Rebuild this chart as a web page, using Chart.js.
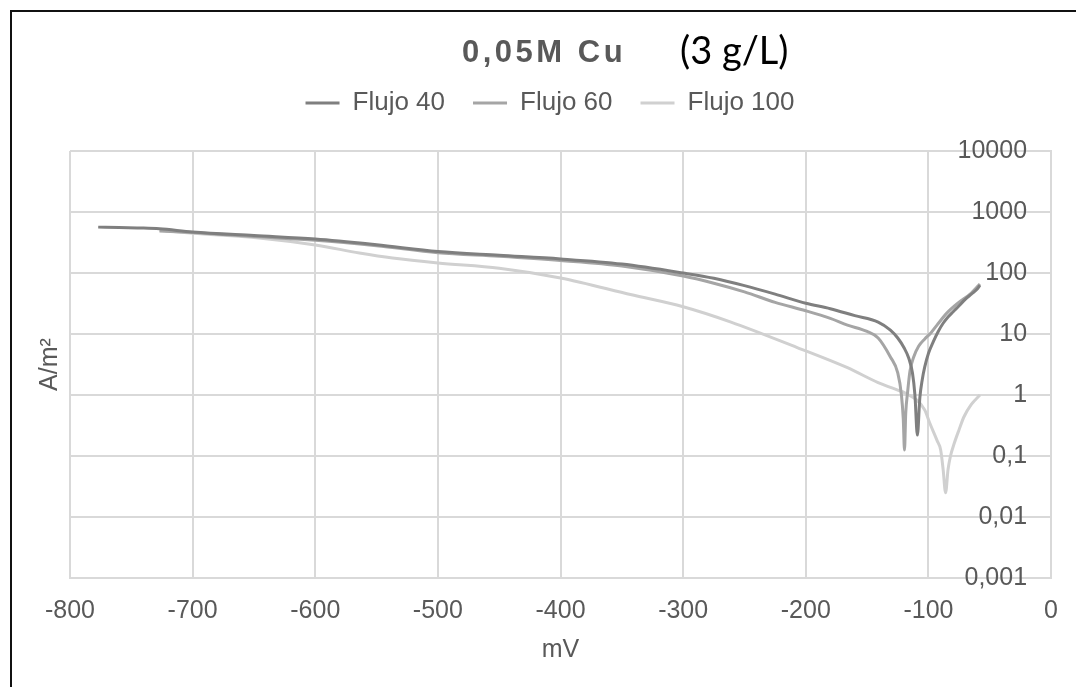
<!DOCTYPE html>
<html>
<head>
<meta charset="utf-8">
<script src="https://cdn.jsdelivr.net/npm/chart.js@4.4.0/dist/chart.umd.min.js"></script>
<style>
  html, body { margin: 0; padding: 0; background: #fff; }
  #wrap { position: relative; width: 1076px; height: 687px; overflow: hidden; }
  #frame { position: absolute; left: 10px; top: 10px; width: 1200px; height: 800px;
           border-top: 2px solid #111; border-left: 2px solid #111; }
  #chart { position: absolute; left: 0; top: 0; }
  .t1 { position: absolute; left: 462px; top: 34px; line-height: 31px; white-space: nowrap;
        font: bold 31px 'Liberation Sans', Arial, sans-serif; letter-spacing: 3.5px; color: #595959; }
  .t2 { position: absolute; left: 680px; top: 26px; line-height: 38px; white-space: nowrap;
        font: 38px Lato, 'Open Sans', sans-serif; color: #000; }
</style>
</head>
<body>
<div id="wrap">
  <div id="frame"></div>
  <canvas id="chart" width="1076" height="687"></canvas>
  <div class="t1">0,05M Cu</div>
  <div class="t2">(3 g/L)</div>
</div>
<script>
// Curvas de polarización (mV vs A/m2)
const f40X = [-777, -760, -740, -727, -700, -650, -600, -550, -500, -450, -400, -350, -300, -275, -250, -225, -200, -180, -160, -141, -131, -125, -120, -116, -113, -111, -109, -107, -105, -103, -100, -96, -92, -88, -84, -80, -75, -70, -65, -60, -58];
const f40Y = [565, 555, 545, 530, 470, 410, 360, 290, 225, 195, 170, 140, 100, 82, 62, 45, 32, 26, 20, 15.7, 11.6, 8.6, 6, 4, 2.3, 1, 0.22, 0.9, 1.8, 2.9, 4.8, 7.5, 11, 15, 19, 23, 29, 37, 45, 55, 63];

const f60X = [-727, -700, -650, -600, -550, -500, -450, -400, -350, -300, -275, -250, -225, -200, -180, -166, -150, -141, -131, -125, -122, -120.5, -119.5, -118.5, -117, -115, -112, -108, -103, -98, -93, -85, -76, -65, -58];
const f60Y = [490, 460, 395, 345, 280, 215, 188, 160, 130, 89, 68, 49, 33, 24, 18, 14, 11, 8.6, 4.2, 2.3, 1.0, 0.4, 0.125, 0.5, 1.1, 2.5, 4.2, 6.3, 8.3, 10.4, 14, 22, 32, 47, 66];

const f100X = [-727, -700, -646, -600, -564, -537, -500, -450, -400, -342, -300, -261, -207, -166, -141, -125, -119, -103, -99, -93, -90, -88, -86, -84, -82, -79, -75, -71, -65, -58];
const f100Y = [500, 450, 375, 288, 213, 176, 146, 120, 83, 44, 28, 15.7, 6, 2.8, 1.6, 1.2, 1.08, 0.57, 0.35, 0.18, 0.125, 0.06, 0.025, 0.06, 0.1, 0.16, 0.27, 0.44, 0.7, 1.0];

const seriesNames = ['Flujo 40', 'Flujo 60', 'Flujo 100'];
const yTickValues = [10000, 1000, 100, 10, 1, 0.1, 0.01, 0.001];
const yTickLabels = ['10000', '1000', '100', '10', '1', '0,1', '0,01', '0,001'];

const FONT = "'Liberation Sans', Arial, sans-serif";
const TEXT = '#595959';
const GRID = '#d9d9d9';
const lineColors = ['#7f7f7f', '#a5a5a5', '#d0d0d0'];

function toPoints(xs, ys) {
    return xs.map((x, i) => ({ x: x, y: ys[i] }));
}

// extra space under the legend so the plot starts lower
const legendSpacer = {
    id: 'legendSpacer',
    beforeInit(chart) {
        const fit = chart.legend.fit;
        chart.legend.fit = function () {
            fit.call(this);
            this.height += 25;
        };
    }
};

const dataSets = [[f40X, f40Y], [f60X, f60Y], [f100X, f100Y]].map((d, i) => ({
    label: seriesNames[i],
    data: toPoints(d[0], d[1]),
    borderColor: lineColors[i],
    backgroundColor: lineColors[i],
    borderWidth: 3,
    pointRadius: 0,
    cubicInterpolationMode: 'monotone',
    yAxisID: 'y'
}));

new Chart(document.getElementById('chart'), {
    type: 'line',
    data: { datasets: dataSets },
    plugins: [legendSpacer],
    options: {
        responsive: false,
        animation: false,
        layout: { padding: { top: 62, left: 24, right: 0, bottom: 0 } },
        plugins: {
            title: { display: false },
            tooltip: { enabled: false },
            legend: {
                position: 'top',
                labels: {
                    usePointStyle: true,
                    pointStyle: 'line',
                    pointStyleWidth: 34,
                    color: TEXT,
                    padding: 28,
                    font: { size: 26, family: FONT }
                }
            }
        },
        scales: {
            x: {
                type: 'linear',
                min: -800,
                max: 0,
                ticks: {
                    stepSize: 100,
                    color: TEXT,
                    padding: 18,
                    font: { size: 25, family: FONT },
                    callback: v => String(v)
                },
                grid: { color: GRID, lineWidth: 2, drawTicks: false },
                border: { color: GRID, width: 2 },
                title: {
                    display: true,
                    text: 'mV',
                    color: TEXT,
                    font: { size: 25, family: FONT },
                    padding: { top: 0, bottom: 22 }
                },
                afterFit(scale) { scale.height = 109; }
            },
            y: {
                type: 'logarithmic',
                position: 'right',
                min: 0.001,
                max: 10000,
                afterBuildTicks(scale) {
                    scale.ticks = yTickValues.map(v => ({ value: v }));
                },
                ticks: {
                    mirror: true,
                    padding: -24,
                    color: TEXT,
                    font: { size: 25, family: FONT },
                    callback: (v, i) => yTickLabels[i]
                },
                grid: { color: GRID, lineWidth: 2, drawTicks: false },
                border: { color: GRID, width: 2 },
                afterFit(scale) { scale.width = 22; }
            },
            yLabel: {
                type: 'linear',
                position: 'left',
                display: true,
                ticks: { display: false },
                grid: { display: false, drawTicks: false },
                border: { display: false },
                title: {
                    display: true,
                    text: 'A/m²',
                    color: TEXT,
                    font: { size: 25, family: FONT },
                    padding: { top: 11, bottom: 0 }
                },
                afterFit(scale) { scale.width = 46; }
            }
        }
    }
});
</script>
</body>
</html>
